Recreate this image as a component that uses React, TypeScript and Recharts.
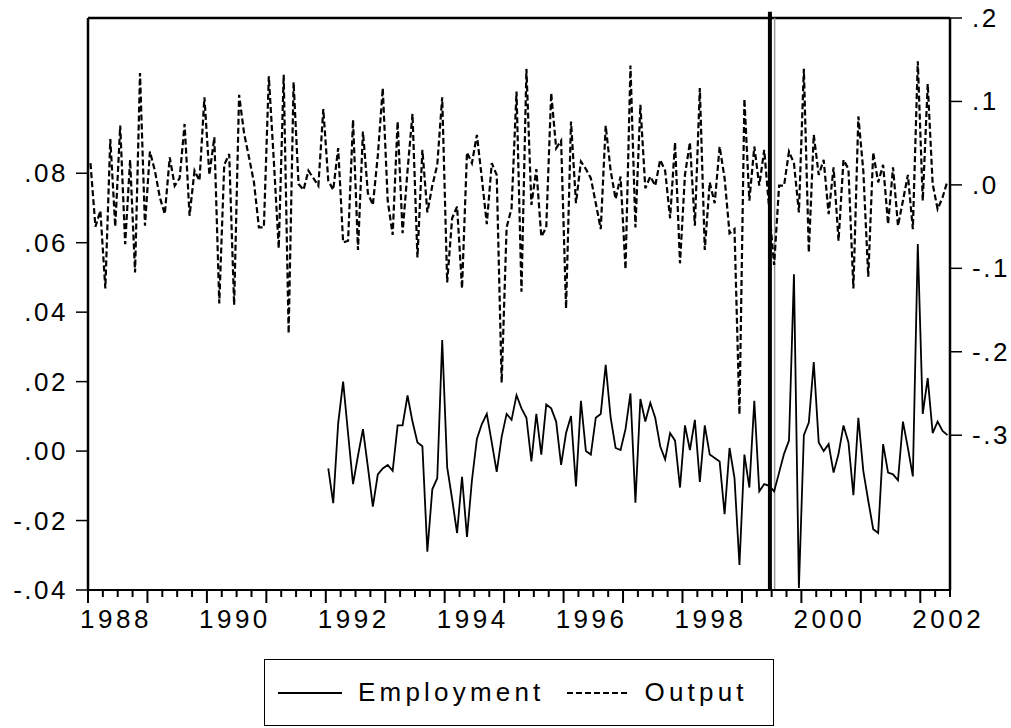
import React from 'react';
import { ComposedChart, Line, XAxis, YAxis, ReferenceLine } from 'recharts';

// monthly series, 1988M1 .. 2002M6
const START_YEAR = 1988;
const EMP_START = 48; // employment starts 1992M1

const output = [
  0.026, -0.050, -0.031, -0.124, 0.055, -0.050, 0.071, -0.071, 0.030, -0.105, 0.134, -0.049,
  0.040, 0.017, -0.015, -0.035, 0.033, -0.001, 0.008, 0.073, -0.037, 0.017, 0.005, 0.105,
  0.012, 0.057, -0.142, 0.024, 0.037, -0.144, 0.108, 0.062, 0.033, 0.003, -0.051, -0.051,
  0.130, 0.030, -0.076, 0.132, -0.178, 0.123, 0.001, -0.006, 0.017, 0.008, -0.001, 0.091,
  0.005, -0.006, 0.044, -0.069, -0.067, 0.078, -0.078, 0.064, -0.010, -0.024, 0.035, 0.116,
  -0.019, -0.060, 0.076, -0.058, 0.017, 0.085, -0.087, 0.042, -0.033, -0.001, 0.024, 0.105,
  -0.117, -0.040, -0.026, -0.124, 0.039, 0.026, 0.060, 0.008, -0.047, 0.026, 0.012, -0.237,
  -0.051, -0.028, 0.112, -0.128, 0.139, -0.024, 0.019, -0.062, -0.051, 0.110, 0.044, 0.053,
  -0.148, 0.076, -0.022, 0.028, 0.019, 0.008, -0.022, -0.053, 0.071, 0.017, -0.017, 0.010,
  -0.101, 0.143, -0.051, 0.096, -0.004, 0.010, -0.001, 0.030, 0.017, -0.040, 0.051, -0.094,
  0.012, 0.051, -0.049, 0.116, -0.078, 0.003, -0.022, 0.046, 0.008, -0.058, -0.053, -0.275,
  0.103, -0.019, 0.046, -0.001, 0.042, -0.029, -0.096, -0.001, -0.001, 0.040, 0.026, -0.033,
  0.139, -0.081, 0.060, 0.012, 0.030, -0.035, 0.021, -0.067, 0.030, 0.019, -0.124, 0.082,
  0.017, -0.110, 0.039, 0.003, 0.024, -0.047, 0.021, -0.049, -0.019, 0.012, -0.053, 0.148,
  -0.019, 0.121, 0.001, -0.029, -0.015, 0.005,
];

const employment = [
  -0.005, -0.015, 0.008, 0.020, 0.005, -0.0095, -0.0013, 0.0063, -0.0046, -0.016, -0.0067, -0.005,
  -0.004, -0.0057, 0.0074, 0.0074, 0.016, 0.0085, 0.0025, 0.0014, -0.029, -0.011, -0.0078, 0.032,
  -0.0046, -0.0138, -0.0236, -0.0074, -0.0247, -0.0084, 0.0035, 0.0078, 0.0107, 0.0025, -0.006, 0.0041,
  0.0107, 0.009, 0.0161, 0.0123, 0.0096, -0.003, 0.0107, -0.001, 0.0134, 0.0123, 0.0085, -0.004,
  0.0052, 0.0101, -0.0102, 0.0145, 0.000, -0.001, 0.0096, 0.0107, 0.0248, 0.0096, 0.0009, 0.0003,
  0.0063, 0.0166, -0.0149, 0.015, 0.0085, 0.0139, 0.0096, 0.0014, -0.0024, 0.0052, 0.003, -0.0105,
  0.0074, 0.0003, 0.009, -0.0089, 0.0074, -0.001, -0.002, -0.003, -0.0182, 0.0009, -0.0078, -0.0328,
  -0.001, -0.0105, 0.0145, -0.0116, -0.0095, -0.010, -0.0116, -0.0062, -0.0008, 0.003, 0.0509, -0.0394,
  0.0046, 0.0082, 0.0256, 0.0025, 0.000, 0.002, -0.0062, -0.0008, 0.0074, 0.0025, -0.0127, 0.0096,
  -0.0057, -0.0143, -0.0225, -0.0236, 0.002, -0.0062, -0.0067, -0.0084, 0.0085, 0.0009, -0.0073, 0.0596,
  0.0107, 0.021, 0.0052, 0.0085, 0.0058, 0.0046,
];

const yearLabels = ['1988', '1990', '1992', '1994', '1996', '1998', '2000', '2002'];
const leftTicks = [-0.04, -0.02, 0, 0.02, 0.04, 0.06, 0.08];
const rightTicks = [-0.3, -0.2, -0.1, 0, 0.1, 0.2];

const N = output.length;
const data = output.map((o, i) => ({
  x: i + 0.5,
  month: `${START_YEAR + Math.floor(i / 12)}M${(i % 12) + 1}`,
  output: o,
  employment: i >= EMP_START ? employment[i - EMP_START] : null,
}));

const xTicks: number[] = [];
for (let m = 0; m <= N; m += 3) xTicks.push(m);

const FONT = '"Liberation Sans", Arial, sans-serif';
const RIGHT_DOMAIN: [number, number] = [-0.4855, 0.2];
const BREAK_X = 137.65;

const fmtLeft = (v: number) =>
  (v < -1e-9 ? '-' : '') + '.' + String(Math.round(Math.abs(v) * 100)).padStart(2, '0');
const fmtRight = (v: number) => (v < -1e-9 ? '-' : '') + '.' + Math.round(Math.abs(v) * 10);

const XTick = (props: any) => {
  const { x, y, payload } = props;
  const m = payload.value;
  const major = m % 12 === 0;
  const label = m % 24 === 0 ? yearLabels[m / 24] : null;
  return (
    <g>
      <line x1={x} x2={x} y1={y} y2={y + (major ? 13 : 7)} stroke="#000" strokeWidth={2} />
      {label && (
        <text x={x + 28} y={y + 38} textAnchor="middle" fontSize={26} fontFamily={FONT}
          letterSpacing={3.5} fill="#000">
          {label}
        </text>
      )}
    </g>
  );
};

const YTick = (props: any) => {
  const { x, y, payload, side } = props;
  const txt = side === 'left' ? fmtLeft(payload.value) : fmtRight(payload.value);
  return (
    <text x={x} y={y} dy={9} textAnchor={side === 'left' ? 'end' : 'start'} fontSize={26}
      fontFamily={FONT} letterSpacing={2.5} fill="#000">
      {txt}
    </text>
  );
};

export default function App() {
  return (
    <div style={{ position: 'absolute', left: 0, top: 0, width: 1011, height: 728, background: '#fff' }}>
      <ComposedChart width={1011} height={728} data={data}
        margin={{ top: 18, right: 0, bottom: 88, left: 0 }}>
        <XAxis dataKey="x" type="number" domain={[0, N]} ticks={xTicks} interval={0}
          height={50} tickSize={0} tickMargin={0} tickLine={false}
          axisLine={{ stroke: '#000', strokeWidth: 2 }} tick={<XTick />} />
        <YAxis yAxisId="left" orientation="left" width={88} domain={[-0.04, 0.1247]}
          ticks={leftTicks} interval={0} allowDataOverflow tickSize={12} tickMargin={8}
          tickLine={{ stroke: '#000', strokeWidth: 1.5 }} axisLine={{ stroke: '#000', strokeWidth: 2.5 }}
          tick={<YTick side="left" />} />
        <YAxis yAxisId="right" orientation="right" width={61} domain={RIGHT_DOMAIN}
          ticks={rightTicks} interval={0} allowDataOverflow tickSize={12} tickMargin={10}
          tickLine={{ stroke: '#000', strokeWidth: 1.5 }} axisLine={{ stroke: '#000', strokeWidth: 2.5 }}
          tick={<YTick side="right" />} />
        {/* top frame */}
        <ReferenceLine yAxisId="right" y={0.2} stroke="#000" strokeWidth={2.5} />
        {/* break marker */}
        <ReferenceLine yAxisId="right" ifOverflow="visible" stroke="#000" strokeWidth={4}
          segment={[{ x: BREAK_X, y: RIGHT_DOMAIN[0] }, { x: BREAK_X, y: 0.2075 }]} />
        <ReferenceLine yAxisId="left" x={BREAK_X + 0.95} stroke="#999" strokeWidth={1.5} />
        <Line yAxisId="right" dataKey="output" type="linear" stroke="#000" strokeWidth={2.2}
          strokeDasharray="6 3" dot={false} isAnimationActive={false} />
        <Line yAxisId="left" dataKey="employment" type="linear" stroke="#000" strokeWidth={1.8}
          dot={false} isAnimationActive={false} connectNulls={false} />
      </ComposedChart>
      <div style={{
        position: 'absolute', left: 264, top: 659, width: 510, height: 67,
        border: '1.5px solid #000', boxSizing: 'border-box', display: 'flex', alignItems: 'center',
        fontFamily: FONT, fontSize: 26, letterSpacing: 4.2, color: '#000',
      }}>
        <svg width={64} height={4} style={{ marginLeft: 13 }}>
          <line x1={0} x2={64} y1={2} y2={2} stroke="#000" strokeWidth={1.8} />
        </svg>
        <span style={{ marginLeft: 16 }}>Employment</span>
        <svg width={62} height={4} style={{ marginLeft: 22 }}>
          <line x1={0} x2={62} y1={2} y2={2} stroke="#000" strokeWidth={1.8} strokeDasharray="6 3" />
        </svg>
        <span style={{ marginLeft: 16 }}>Output</span>
      </div>
    </div>
  );
}
